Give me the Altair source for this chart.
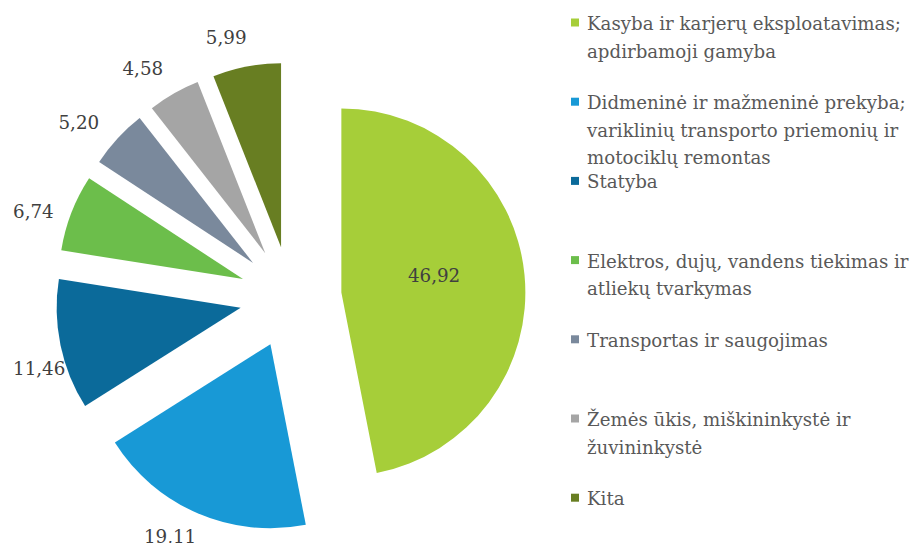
import altair as alt
import pandas as pd

categories = [
    "Kasyba ir karjerų eksploatavimas;\napdirbamoji gamyba",
    "Didmeninė ir mažmeninė prekyba;\nvariklinių transporto priemonių ir\nmotociklų remontas",
    "Statyba",
    "Elektros, dujų, vandens tiekimas ir\natliekų tvarkymas",
    "Transportas ir saugojimas",
    "Žemės ūkis, miškininkystė ir\nžuvininkystė",
    "Kita",
]
values = [46.92, 19.11, 11.46, 6.74, 5.20, 4.58, 5.99]
value_labels = ["46,92", "19,11", "11,46", "6,74", "5,20", "4,58", "5,99"]
colors = ["#A6CE39", "#1899D6", "#0B6A9A", "#6CBE4B", "#7A899C", "#A5A5A5", "#687E22"]

df = pd.DataFrame({
    "idx": list(range(len(values))),
    "category": categories,
    "value": values,
    "label": value_labels,
})

FONT = "DejaVu Serif"
LABEL_FS = 18.3
LEGEND_FS = 18.2

# layout constants (pixels inside the chart)
CX, CY = 282.6, 289.4   # pie centre
R = 184                 # pie radius
EXPLODE = 51
LABEL_IN, LABEL_GAP = 94, 18
LABEL_ROT = -4 * 3.14159265 / 180
HALF_H = 8
Y_MAX, X_MIN = 530, 5
LEG_X_MARK, LEG_X_TEXT = 567, 579
LEG_Y0, LEG_STEP = 22, 79.2

base = alt.Chart(df).transform_window(
    cum="sum(value)", sort=[alt.SortField("idx")], frame=[None, 0]
).transform_joinaggregate(
    total="sum(value)"
).transform_calculate(
    a0="(datum.cum - datum.value) / datum.total * 2 * PI",
    a1="datum.cum / datum.total * 2 * PI",
).transform_calculate(
    mid="(datum.a0 + datum.a1) / 2",
    hw=f"((length(datum.label) - 1) * 0.636 + 0.318) * {LABEL_FS} / 2",
).transform_calculate(
    cx=f"{CX} + {EXPLODE} * sin(datum.mid)",
    cy=f"{CY} - {EXPLODE} * cos(datum.mid)",
    la=f"datum.mid + {LABEL_ROT}",
).transform_calculate(
    # label distance from slice centre: inside for the big slice, outside for the rest
    ld=f"datum.value > 25 ? {LABEL_IN} : "
       f"{R} + {LABEL_GAP} + abs(sin(datum.la)) * datum.hw + abs(cos(datum.la)) * {HALF_H}",
).transform_calculate(
    # slide a label along its circle when it would fall below the chart
    cbound=f"(datum.cy - {Y_MAX}) / datum.ld",
).transform_calculate(
    la2="(datum.cbound > -1 && datum.la > PI && datum.la < 2 * PI - acos(datum.cbound)) "
        "? 2 * PI - acos(datum.cbound) : datum.la",
).transform_calculate(
    lx=f"max(datum.cx + datum.ld * sin(datum.la2), datum.hw + {X_MIN})",
    ly="datum.cy - datum.ld * cos(datum.la2)",
    legy=f"{LEG_Y0} + datum.idx * {LEG_STEP}",
).transform_calculate(
    legy_m="datum.legy - 7.5",
)

color = alt.Color("category:N", scale=alt.Scale(domain=categories, range=colors), legend=None)

arcs = base.mark_arc(radius=R).encode(
    x=alt.X("cx:Q", scale=None),
    y=alt.Y("cy:Q", scale=None),
    theta=alt.Theta("a0:Q", scale=None, stack=False),
    theta2=alt.Theta2("a1:Q"),
    color=color,
)

labels = base.mark_text(
    font=FONT, fontSize=LABEL_FS, color="#404040", align="center", baseline="middle"
).encode(
    x=alt.X("lx:Q", scale=None),
    y=alt.Y("ly:Q", scale=None),
    text="label:N",
)

leg_marks = base.mark_square(size=64, opacity=1).encode(
    x=alt.value(LEG_X_MARK),
    y=alt.Y("legy_m:Q", scale=None),
    color=color,
)

leg_text = base.mark_text(
    font=FONT, fontSize=LEGEND_FS, color="#595959", align="left",
    baseline="alphabetic", lineBreak="\n", lineHeight=27.5,
).encode(
    x=alt.value(LEG_X_TEXT),
    y=alt.Y("legy:Q", scale=None),
    text="category:N",
)

chart = alt.layer(arcs, labels, leg_marks, leg_text).properties(
    width=905, height=535, padding=0, autosize="none"
).configure_view(strokeWidth=0)

chart.save("out.html", embed_options={"renderer": "svg", "actions": False})
